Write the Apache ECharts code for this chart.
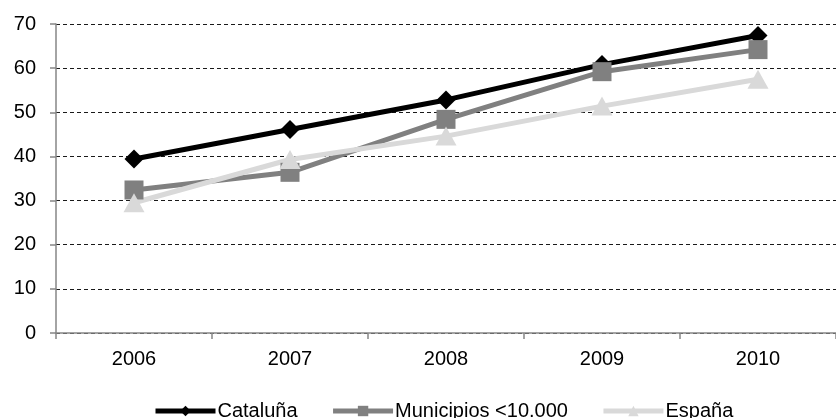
<!DOCTYPE html>
<html>
<head>
<meta charset="utf-8">
<script src="https://cdn.jsdelivr.net/npm/echarts@6/dist/echarts.min.js"></script>
<style>
  html, body { margin: 0; padding: 0; background: #fff; }
  #chart { width: 836px; height: 418px; }
</style>
</head>
<body>
<div id="chart"></div>
<script>
// Years on the horizontal axis
const years = ['2006', '2007', '2008', '2009', '2010'];

// Series values (%)
const cataluna = [39.4, 46.1, 52.8, 60.8, 67.4];
const municipios = [32.4, 36.4, 48.4, 59.2, 64.2];
const espana = [29.5, 39.3, 44.6, 51.4, 57.5];

// Series names
const seriesNames = ['Cataluña', 'Municipios <10.000', 'España'];

const FONT = '"Liberation Sans", Arial, sans-serif';

function lineSeries(name, data, color, symbol, size) {
  return {
    name: name,
    type: 'line',
    data: data,
    symbol: symbol,
    symbolSize: size,
    showSymbol: true,
    lineStyle: { color: color, width: 5 },
    itemStyle: { color: color },
    emphasis: { disabled: true }
  };
}

const chart = echarts.init(document.getElementById('chart'), null, { renderer: 'canvas' });

chart.setOption({
  animation: false,
  backgroundColor: '#ffffff',
  textStyle: { fontFamily: FONT },
  grid: { left: 56, top: 24, right: -12, bottom: 85 },
  legend: {
    top: 396,
    left: 148,
    itemWidth: 60,
    itemHeight: 13,
    itemGap: 33,
    lineStyle: { width: 5 },
    textStyle: { fontFamily: FONT, fontSize: 20, color: '#000', padding: [0, 0, 0, -3] },
    data: seriesNames
  },
  xAxis: {
    type: 'category',
    data: years,
    boundaryGap: true,
    axisLine: { lineStyle: { color: '#868686', width: 1.5 } },
    axisTick: { show: true, length: 6, lineStyle: { color: '#868686', width: 1.5 } },
    axisLabel: { fontFamily: FONT, fontSize: 20, color: '#000', margin: 16 },
    splitLine: { show: false }
  },
  yAxis: {
    type: 'value',
    min: 0,
    max: 70,
    interval: 10,
    axisLine: { show: true, lineStyle: { color: '#868686', width: 1.5 } },
    axisTick: { show: true, length: 6, lineStyle: { color: '#868686', width: 1.5 } },
    axisLabel: { fontFamily: FONT, fontSize: 20, color: '#000', margin: 20 },
    splitLine: { show: true, lineStyle: { color: '#1a1a1a', width: 1, type: [4, 3] } }
  },
  series: [
    lineSeries(seriesNames[0], cataluna, '#000000', 'diamond', [19, 19]),
    lineSeries(seriesNames[1], municipios, '#808080', 'rect', [19, 19]),
    lineSeries(seriesNames[2], espana, '#d9d9d9', 'triangle', [21, 19])
  ]
});
</script>
</body>
</html>
